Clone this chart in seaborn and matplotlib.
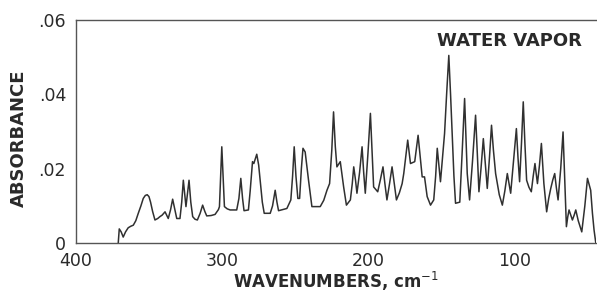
import numpy as np
import pandas as pd
import matplotlib
matplotlib.use("Agg")
import matplotlib.pyplot as plt
import seaborn as sns

# far-IR spectrum of water vapor
wavenumber = [
    371.0, 370.3, 369.0, 367.6, 366.0, 364.2, 362.5, 360.7, 359.0, 357.3,
    355.5, 353.9, 352.5, 351.2, 350.0, 348.9, 347.5, 345.9, 344.0, 342.5,
    341.0, 339.0, 337.8, 336.8, 335.2, 333.8, 332.3, 331.0, 328.8, 327.6,
    326.5, 325.5, 324.7, 323.6, 322.6, 321.4, 320.1, 318.5, 316.9, 315.0,
    313.3, 311.8, 310.5, 307.5, 304.8, 302.5, 301.8, 301.0, 300.2, 299.3,
    298.4, 296.5, 294.5, 290.0, 288.5, 287.2, 286.0, 285.0, 282.0, 280.8,
    279.2, 278.3, 276.3, 275.0, 274.0, 272.5, 271.2, 267.1, 265.5, 263.7,
    262.5, 261.4, 258.5, 255.7, 253.0, 251.8, 250.7, 249.5, 248.2, 247.0,
    245.8, 244.7, 243.2, 240.9, 238.6, 235.5, 232.9, 230.5, 228.3, 226.5,
    225.0, 223.8, 222.6, 221.5, 219.2, 216.9, 215.0, 212.3, 211.0, 210.0,
    208.8, 207.8, 206.0, 204.3, 203.2, 202.1, 200.3, 198.6, 197.5, 196.4,
    193.6, 191.8, 190.0, 188.7, 187.3, 185.5, 183.8, 182.3, 180.8, 178.8,
    176.9, 175.8, 174.5, 173.1, 171.2, 168.3, 167.0, 166.0, 164.5, 163.2,
    161.6, 159.8, 157.5, 155.3, 154.0, 152.9, 151.8, 150.7, 149.3, 147.9,
    146.5, 145.0, 143.8, 142.7, 141.5, 140.4, 137.5, 135.8, 134.2, 132.4,
    130.8, 128.8, 126.7, 125.5, 124.4, 123.0, 121.4, 120.0, 118.7, 117.2,
    115.8, 114.5, 113.0, 110.5, 108.4, 106.7, 105.0, 103.8, 102.7, 100.8,
    98.8, 97.7, 96.6, 95.3, 94.1, 93.0, 91.8, 90.2, 88.6, 87.3,
    86.1, 84.4, 83.0, 81.7, 80.0, 78.1, 76.7, 75.3, 73.9, 72.6,
    71.5, 70.3, 68.5, 66.9, 65.8, 64.6, 63.7, 62.8, 61.6, 60.5,
    59.3, 58.2, 56.5, 54.1, 52.0, 50.2, 48.0, 46.8, 45.7, 44.5,
]
absorbance = [
    0.0, 0.0038, 0.0030, 0.0016, 0.0030, 0.0041, 0.0045, 0.0048, 0.0060, 0.0080,
    0.0100, 0.0120, 0.0128, 0.0130, 0.0125, 0.0110, 0.0085, 0.0062, 0.0066, 0.0071,
    0.0075, 0.0084, 0.0074, 0.0066, 0.0090, 0.0118, 0.0090, 0.0066, 0.0066, 0.0110,
    0.0169, 0.0130, 0.0098, 0.0135, 0.0169, 0.0110, 0.0071, 0.0064, 0.0062, 0.0080,
    0.0102, 0.0085, 0.0073, 0.0074, 0.0077, 0.0090, 0.0098, 0.0180, 0.0259, 0.0180,
    0.0098, 0.0092, 0.0089, 0.0089, 0.0120, 0.0174, 0.0120, 0.0087, 0.0089, 0.0140,
    0.0219, 0.0214, 0.0239, 0.0210, 0.0169, 0.0110, 0.0080, 0.0080, 0.0100, 0.0142,
    0.0110, 0.0087, 0.0090, 0.0093, 0.0116, 0.0180, 0.0259, 0.0180, 0.0120, 0.0120,
    0.0200, 0.0255, 0.0245, 0.0169, 0.0098, 0.0098, 0.0098, 0.0115, 0.0142, 0.0160,
    0.0250, 0.0353, 0.0260, 0.0205, 0.0219, 0.0151, 0.0102, 0.0116, 0.0160, 0.0205,
    0.0170, 0.0134, 0.0190, 0.0259, 0.0190, 0.0134, 0.0240, 0.0349, 0.0250, 0.0151,
    0.0138, 0.0170, 0.0205, 0.0160, 0.0116, 0.0160, 0.0205, 0.0160, 0.0116, 0.0135,
    0.0160, 0.0187, 0.0230, 0.0277, 0.0214, 0.0219, 0.0260, 0.0290, 0.0230, 0.0178,
    0.0178, 0.0125, 0.0102, 0.0116, 0.0180, 0.0255, 0.0210, 0.0165, 0.0230, 0.0295,
    0.0400, 0.0505, 0.0400, 0.0295, 0.0180, 0.0107, 0.0110, 0.0250, 0.0389, 0.0187,
    0.0116, 0.0220, 0.0344, 0.0240, 0.0138, 0.0200, 0.0281, 0.0210, 0.0147, 0.0230,
    0.0317, 0.0250, 0.0187, 0.0130, 0.0102, 0.0140, 0.0187, 0.0160, 0.0134, 0.0220,
    0.0308, 0.0230, 0.0165, 0.0270, 0.0380, 0.0270, 0.0169, 0.0150, 0.0138, 0.0180,
    0.0214, 0.0160, 0.0210, 0.0268, 0.0160, 0.0084, 0.0120, 0.0147, 0.0170, 0.0187,
    0.0150, 0.0116, 0.0200, 0.0299, 0.0180, 0.0044, 0.0070, 0.0089, 0.0075, 0.0062,
    0.0075, 0.0089, 0.0060, 0.0030, 0.0100, 0.0174, 0.0142, 0.0080, 0.0035, 0.0,
]
y_ticks = [0, 0.02, 0.04, 0.06]
y_ticklabels = ["0", ".02", ".04", ".06"]
x_ticks = [400, 300, 200, 100]
x_minor = [350, 250, 150]

sns.set_style("white")
plt.rcParams["font.family"] = ["DejaVu Sans"]

ink = "#2a2a2a"
df = pd.DataFrame({"wn": wavenumber, "A": absorbance})

fig = plt.figure(figsize=(5.97, 2.96), dpi=100)
ax = fig.add_axes([0.127, 0.179, 0.871, 0.753])
sns.lineplot(data=df, x="wn", y="A", sort=False, estimator=None,
             color="#303030", linewidth=1.1, ax=ax)

ax.set_xlim(400, 44.5)
ax.set_ylim(0, 0.06)
ax.set_xticks(x_ticks)
ax.set_xticks(x_minor, minor=True)
ax.set_yticks(y_ticks)
ax.set_yticklabels(y_ticklabels)

for s in ["left", "bottom", "top"]:
    ax.spines[s].set_color("#555555")
    ax.spines[s].set_linewidth(1.0)
ax.spines["right"].set_visible(False)

ax.tick_params(axis="both", which="both", direction="out", length=3,
               width=0.8, color="#777777", labelsize=12.5, labelcolor=ink)
ax.tick_params(axis="y", pad=4)
ax.tick_params(axis="x", which="both", pad=3.5)

ax.set_xlabel("WAVENUMBERS, cm$^{-1}$", fontsize=12, fontweight="bold",
              color=ink, labelpad=0)
ax.set_ylabel("ABSORBANCE", fontsize=13, fontweight="bold", color=ink)
ax.yaxis.set_label_coords(-0.092, 0.47)
ax.text(0.974, 0.947, "WATER VAPOR", transform=ax.transAxes, ha="right", va="top",
        fontsize=13, fontweight="bold", color=ink)

fig.savefig("out.png", dpi=100, facecolor="white")
